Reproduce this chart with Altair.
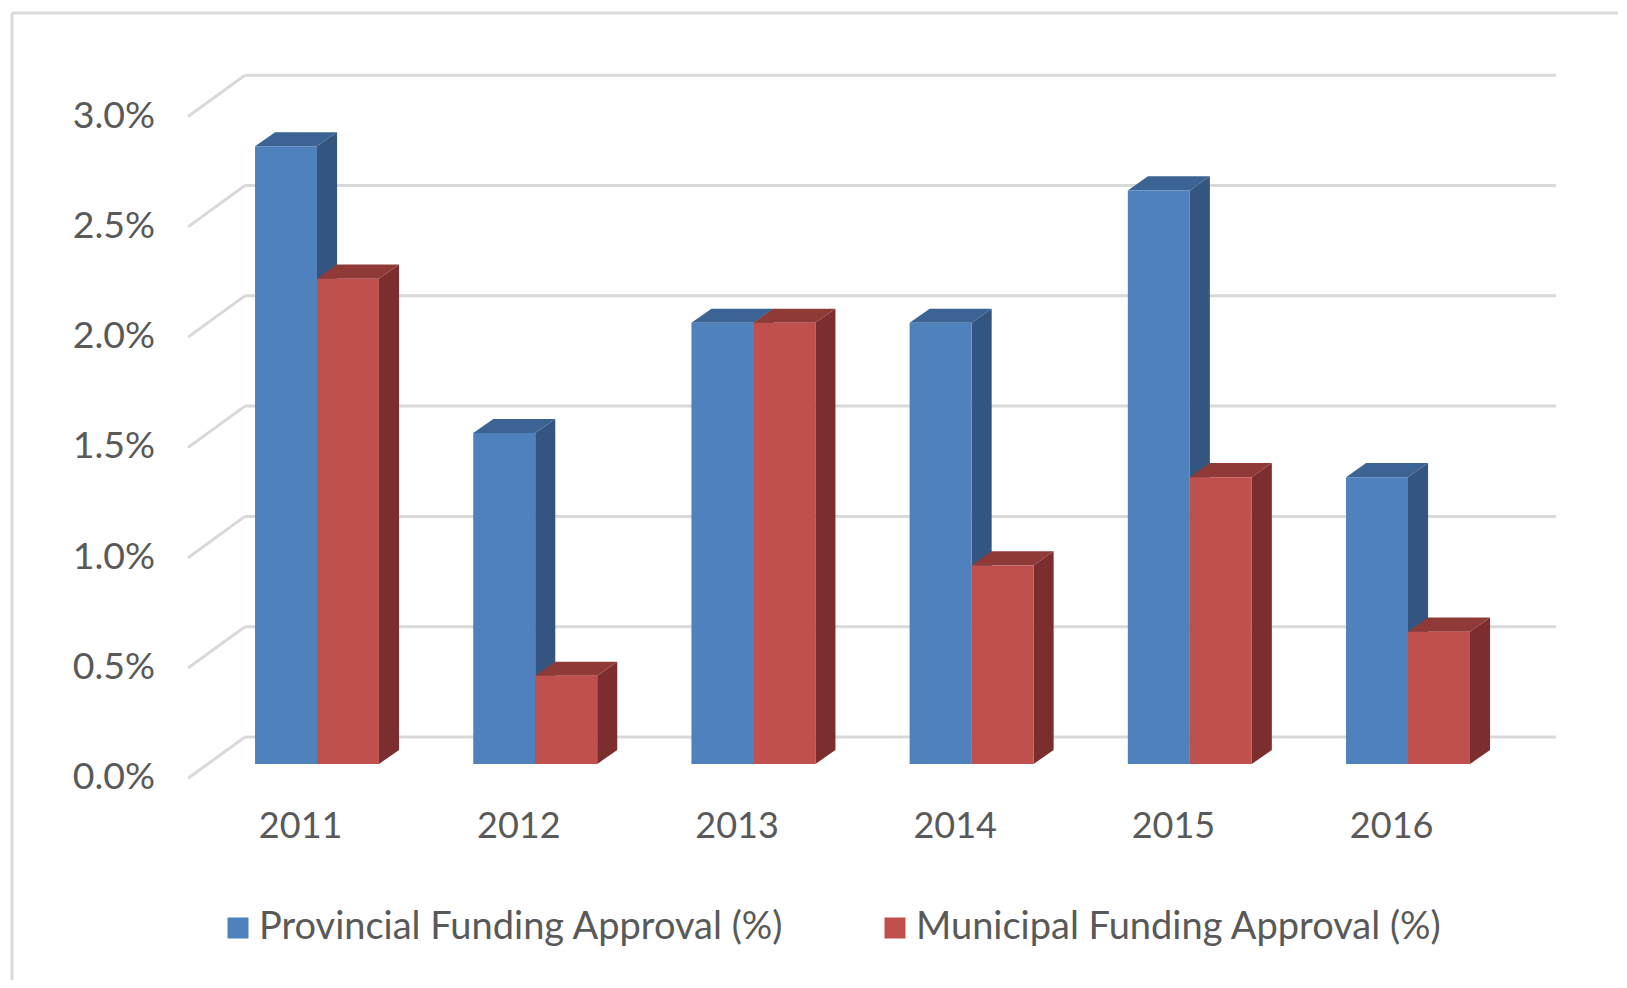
import altair as alt
import pandas as pd

# ---------------- data ----------------
years = ["2011", "2012", "2013", "2014", "2015", "2016"]
provincial = [2.8, 1.5, 2.0, 2.0, 2.6, 1.3]
municipal = [2.2, 0.4, 2.0, 0.9, 1.3, 0.6]
series_names = ["Provincial Funding Approval (%)", "Municipal Funding Approval (%)"]
y_ticks = [0.0, 0.5, 1.0, 1.5, 2.0, 2.5, 3.0]
y_tick_labels = ["0.0%", "0.5%", "1.0%", "1.5%", "2.0%", "2.5%", "3.0%"]

# ---------------- style / geometry (in data units) ----------------
W, H = 1610, 972
X_DOMAIN = [-1.41613, 5.96242]        # group index units
Y_DOMAIN = [-0.97915, 3.42702]        # percent units (front plane of bars)
BAR_W = 0.284                          # width of one bar (group units)
DX, DY = 0.092, 0.064                  # oblique depth of each bar
WALL = 0.1224                          # back wall offset (percent units)
FRONT = -0.065                         # front edge of floor/side wall
BACK_L, FRONT_L, RIGHT = -0.33, -0.591, 5.678
YLAB_X = -0.742
XLAB_DX, XLAB_Y = -0.075, -0.2856

FONT = "Lato"
TXT = "#595959"
GRID = "#D9D9D9"
front_cols = ["#4F81BD", "#C0504D"]
side_cols = ["#33557F", "#7B2E2D"]
top_cols = ["#3B6393", "#903A38"]

xs = alt.Scale(domain=X_DOMAIN, nice=False, zero=False)
ys = alt.Scale(domain=Y_DOMAIN, nice=False, zero=False)

# ---------------- derived tables ----------------
bars, sides, tops = [], [], []
for i, yr in enumerate(years):
    for s, vals in enumerate([provincial, municipal]):
        v = vals[i]
        x0 = i - BAR_W + s * BAR_W
        x1 = x0 + BAR_W
        bid = f"{yr}-{s}"
        name = series_names[s]
        bars.append({"id": bid, "series": name, "x0": x0, "x1": x1, "v": v, "base": 0.0})
        sides.append({"id": bid, "series": name, "x": x1, "yt": v, "yb": 0.0})
        sides.append({"id": bid, "series": name, "x": x1 + DX, "yt": v + DY, "yb": DY})
        tops.append({"id": bid, "series": name, "y": v, "xl": x0, "xr": x1})
        tops.append({"id": bid, "series": name, "y": v + DY, "xl": x0 + DX, "xr": x1 + DX})
bars = pd.DataFrame(bars)
sides = pd.DataFrame(sides)
tops = pd.DataFrame(tops)

ticks = pd.DataFrame({"t": y_ticks, "label": y_tick_labels})
ticks["back"] = ticks["t"] + WALL
ticks["front"] = ticks["t"] + FRONT
ticks["xb"] = BACK_L
ticks["xf"] = FRONT_L
ticks["xr"] = RIGHT
ticks["xlab"] = YLAB_X

ylabels = pd.DataFrame({"year": years, "i": list(range(len(years)))})
ylabels["xc"] = ylabels["i"] + XLAB_DX
ylabels["yc"] = XLAB_Y

one = pd.DataFrame({"k": [0]})

# ---------------- layers ----------------
border_top = alt.Chart(one).mark_rule(color=GRID, strokeWidth=3).encode(
    x=alt.value(4), x2=alt.value(W), y=alt.value(5))
border_left = alt.Chart(one).mark_rule(color=GRID, strokeWidth=3).encode(
    x=alt.value(4), y=alt.value(5), y2=alt.value(H))

back_grid = alt.Chart(ticks).mark_rule(color=GRID, strokeWidth=3).encode(
    x=alt.X("xb:Q", scale=xs, axis=None), x2="xr:Q",
    y=alt.Y("back:Q", scale=ys, axis=None))
diag_grid = alt.Chart(ticks).mark_rule(color=GRID, strokeWidth=3).encode(
    x=alt.X("xf:Q", scale=xs, axis=None), x2="xb:Q",
    y=alt.Y("front:Q", scale=ys, axis=None), y2="back:Q")

y_text = alt.Chart(ticks).mark_text(font=FONT, fontSize=37.5, color=TXT,
                                     align="right", baseline="middle").encode(
    x=alt.X("xlab:Q", scale=xs, axis=None),
    y=alt.Y("front:Q", scale=ys, axis=None),
    text="label:N")

x_text = alt.Chart(ylabels).mark_text(font=FONT, fontSize=36, color=TXT,
                                       align="center", baseline="middle").encode(
    x=alt.X("xc:Q", scale=xs, axis=None),
    y=alt.Y("yc:Q", scale=ys, axis=None),
    text="year:N")

side_layer = alt.Chart(sides).mark_area(orient="vertical", opacity=1).encode(
    x=alt.X("x:Q", scale=xs, axis=None),
    y=alt.Y("yt:Q", scale=ys, axis=None, stack=None), y2="yb:Q",
    color=alt.Color("series:N", scale=alt.Scale(domain=series_names, range=side_cols), legend=None),
    detail="id:N")

top_layer = alt.Chart(tops).mark_area(orient="horizontal", opacity=1).encode(
    y=alt.Y("y:Q", scale=ys, axis=None),
    x=alt.X("xl:Q", scale=xs, axis=None, stack=None), x2="xr:Q",
    color=alt.Color("series:N", scale=alt.Scale(domain=series_names, range=top_cols), legend=None),
    detail="id:N")

front_layer = alt.Chart(bars).mark_rect(opacity=1).encode(
    x=alt.X("x0:Q", scale=xs, axis=None), x2="x1:Q",
    y=alt.Y("base:Q", scale=ys, axis=None), y2="v:Q",
    color=alt.Color("series:N",
                    scale=alt.Scale(domain=series_names, range=front_cols),
                    legend=alt.Legend(title=None, orient="none", legendX=211, legendY=901,
                                      direction="horizontal", symbolType="square",
                                      symbolSize=441, symbolStrokeWidth=0,
                                      labelFont=FONT, labelFontSize=38, labelColor=TXT,
                                      labelOffset=2, columnPadding=92, labelLimit=1000)))

chart = alt.layer(
    border_top, border_left, back_grid, diag_grid, y_text, x_text,
    side_layer, top_layer, front_layer
).resolve_scale(color="independent").properties(
    width=W, height=H, padding=0, autosize=alt.AutoSizeParams(type="none"),
    background="white"
).configure_view(stroke=None)

chart.save("out.html", embed_options={"renderer": "svg", "actions": False})
